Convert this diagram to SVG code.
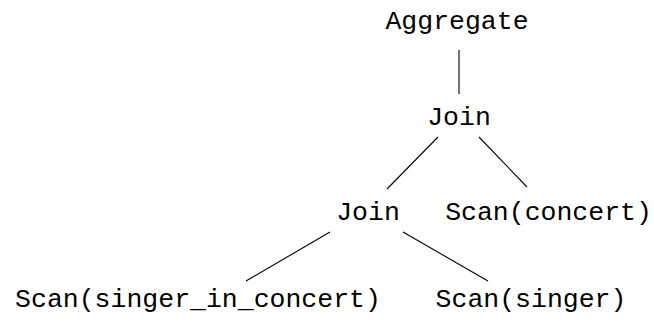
<svg xmlns="http://www.w3.org/2000/svg" width="654" height="322" viewBox="0 0 654 322">
<style>
text{font-family:"Liberation Mono","DejaVu Sans Mono",monospace;font-size:26.5px;fill:#000;text-anchor:middle}
.e line{stroke:#000;stroke-width:1.1}
</style>
<rect width="654" height="322" fill="#fff"/>
<g class="e" id="edges">
<line x1="459" y1="50" x2="459" y2="94"/>
<line x1="438" y1="137" x2="387" y2="189"/>
<line x1="479" y1="137" x2="527" y2="187"/>
<line x1="330" y1="232" x2="246" y2="281"/>
<line x1="403" y1="232" x2="488" y2="281"/>
</g>
<g id="n_aggregate"><text x="457" y="28.5">Aggregate</text></g>
<g id="n_join1"><text x="459" y="124.5">Join</text></g>
<g id="n_join2"><text x="368" y="219.5">Join</text></g>
<g id="n_scan_concert"><text x="548.5" y="219.5">Scan(concert)</text></g>
<g id="n_scan_sic"><text x="198" y="306.5">Scan(singer_in_concert)</text></g>
<g id="n_scan_singer"><text x="531" y="306.5">Scan(singer)</text></g>
</svg>
